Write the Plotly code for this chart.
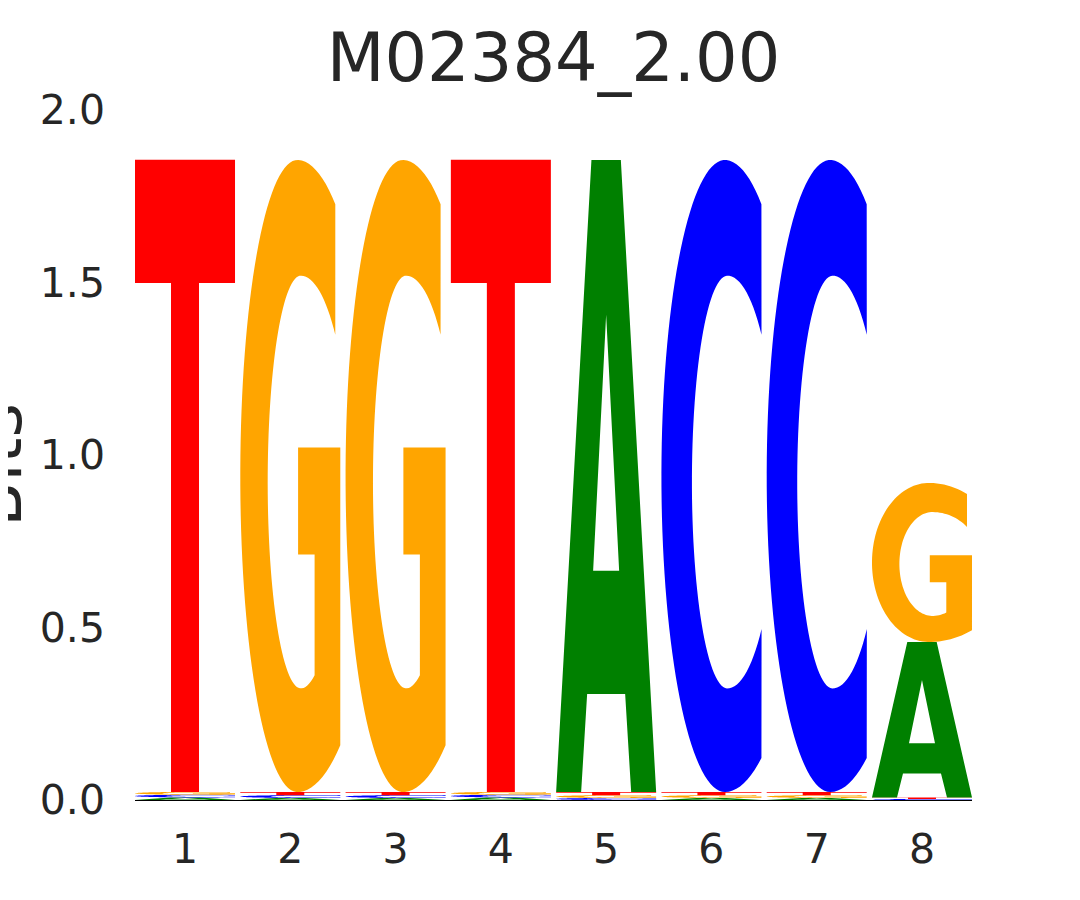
import numpy as np
import plotly.graph_objects as go

# ---------------- data (bits per base at each motif position) ----------------
positions = [1, 2, 3, 4, 5, 6, 7, 8]
tick_labels = ["1", "2", "3", "4", "5", "6", "7", "8"]
y_ticks = [0.0, 0.5, 1.0, 1.5, 2.0]
bases = ["A", "C", "G", "T"]
height_A = [0.0075, 0.006, 0.006, 0.0075, 1.832, 0.006, 0.006, 0.451]
height_C = [0.0078, 0.008, 0.008, 0.0078, 0.006, 1.832, 1.832, 0.003]
height_G = [0.0082, 1.832, 1.832, 0.0082, 0.008, 0.008, 0.008, 0.461]
height_T = [1.832, 0.009, 0.009, 1.832, 0.009, 0.009, 0.009, 0.004]
title_text = "M02384_2.00"
ylabel_text = "Bits"

# ---------------- style ----------------
COLORS = {"A": "#008000", "C": "#0000ff", "G": "#ffa500", "T": "#ff0000"}
GLYPH_WIDTH = 0.95
TEXT_COLOR = "#262626"
FONT = "DejaVu Sans"


# ---------------- glyph outlines in a unit box ----------------
def arc(cx, cy, ay, t0, t1, a_fn, n=90):
    th = np.radians(np.linspace(t0, t1, n))
    pts = []
    for t in th:
        deg = np.degrees(t) % 360
        a = a_fn(deg)
        pts.append((cx + a * np.cos(t), cy + ay * np.sin(t)))
    return pts


def glyph_T():
    return [[(0, 1), (1, 1), (1, 0.805), (0.64, 0.805), (0.64, 0), (0.36, 0),
             (0.36, 0.805), (0, 0.805)]]


def glyph_A():
    outer = [(0, 0), (0.353, 1), (0.647, 1), (1, 0), (0.75, 0), (0.69, 0.155),
             (0.31, 0.155), (0.25, 0)]
    hole = [(0.37, 0.35), (0.63, 0.35), (0.5, 0.755)]
    return [outer, hole]


def glyph_C():
    def a_out(d):
        if d < 90:
            return 0.717
        if d <= 270:
            return 0.634
        return 0.81

    def a_in(d):
        if 90 <= d <= 270:
            return 0.355
        return 0.486

    outer = arc(0.634, 0.5, 0.5, 59.32, 296.87, a_out)
    inner = arc(0.66, 0.4905, 0.3265, 314.6, 45.5, a_in)
    return [outer + inner]


def glyph_G():
    def a_out(d):
        if d < 90:
            return 0.745
        if d <= 270:
            return 0.57
        return 0.821

    def a_in(d):
        if d < 90:
            return 0.492
        if d <= 270:
            return 0.331
        return 0.391

    outer = arc(0.57, 0.5, 0.5, 59.32, 301.57, a_out)
    bar = [(1.0, 0.545), (0.578, 0.545), (0.578, 0.376), (0.743, 0.376), (0.743, 0.185)]
    inner = arc(0.605, 0.4905, 0.3265, 290.65, 45.5, a_in)
    return [outer + bar + inner]


GLYPHS = {"A": glyph_A(), "C": glyph_C(), "G": glyph_G(), "T": glyph_T()}


def glyph_path(base, x_center, floor, height):
    parts = []
    x0 = x_center - GLYPH_WIDTH / 2
    for contour in GLYPHS[base]:
        pts = [(x0 + u * GLYPH_WIDTH, floor + v * height) for u, v in contour]
        s = "M " + " L ".join(f"{x:.5f},{y:.6f}" for x, y in pts) + " Z"
        parts.append(s)
    return " ".join(parts)


heights = {"A": height_A, "C": height_C, "G": height_G, "T": height_T}

shapes = []
for i, pos in enumerate(positions):
    col = sorted(bases, key=lambda b: heights[b][i])  # smallest at bottom
    floor = 0.0
    for b in col:
        h = heights[b][i]
        shapes.append(dict(type="path", xref="x", yref="y",
                           path=glyph_path(b, pos, floor, h),
                           fillcolor=COLORS[b], line=dict(width=0),
                           layer="above"))
        floor += h

fig = go.Figure()
fig.add_trace(go.Scatter(x=positions, y=[0] * len(positions), mode="markers",
                         marker=dict(opacity=0), hoverinfo="skip",
                         showlegend=False))

fig.update_layout(
    width=1080, height=900,
    paper_bgcolor="white", plot_bgcolor="white",
    margin=dict(l=127, r=116, t=102, b=108),
    shapes=shapes,
    font=dict(family=FONT, color=TEXT_COLOR),
    title=dict(text=title_text, x=0.5, xref="paper", xanchor="center",
               y=0.9444, yref="container", yanchor="middle",
               font=dict(size=67, family=FONT, color=TEXT_COLOR)),
    showlegend=False,
    xaxis=dict(range=[positions[0] - GLYPH_WIDTH / 2, positions[-1] + GLYPH_WIDTH / 2],
               tickmode="array", tickvals=positions, ticktext=tick_labels,
               showgrid=False, zeroline=False, showline=True,
               linecolor="black", linewidth=1.2, ticks="",
               ticklabelstandoff=13,
               tickfont=dict(size=41, family=FONT, color=TEXT_COLOR)),
    yaxis=dict(range=[0, 2.0], tickmode="array", tickvals=y_ticks,
               ticktext=[f"{v:.1f}" for v in y_ticks],
               showgrid=False, zeroline=False, showline=False, ticks="",
               ticklabelstandoff=29,
               tickfont=dict(size=41, family=FONT, color=TEXT_COLOR)),
    annotations=[dict(text=ylabel_text, textangle=-90, showarrow=False,
                      xref="paper", x=0, xshift=-137, xanchor="center",
                      yref="paper", y=0.4855, yanchor="middle",
                      font=dict(size=66, family=FONT, color=TEXT_COLOR))],
)

fig.write_html("out.html")
